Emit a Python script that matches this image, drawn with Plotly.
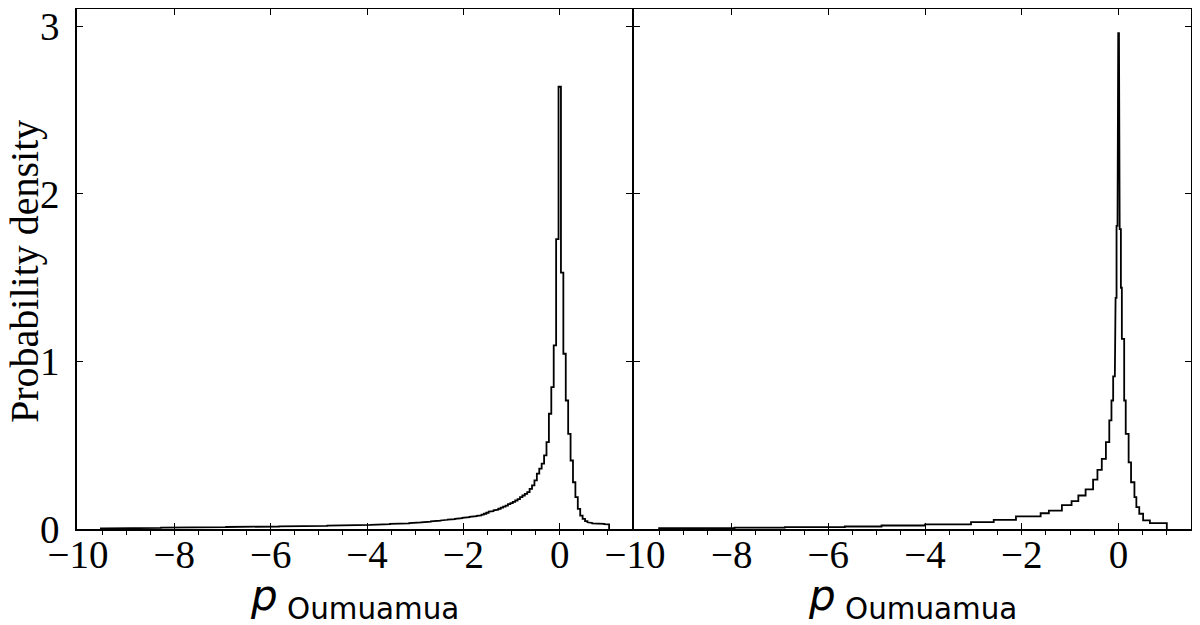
import numpy as np
import plotly.graph_objects as go

# ---------------- data ----------------
# left panel: uniform bins of width 0.05 centred on -9.50 ... 1.00
left_bin_start = -9.525
left_bin_width = 0.05
left_density = [
    0.003, 0.003, 0.004, 0.003, 0.004, 0.004, 0.004, 0.005, 0.004, 0.005,
    0.005, 0.005, 0.005, 0.006, 0.005, 0.006, 0.006, 0.006, 0.006, 0.007,
    0.006, 0.007, 0.007, 0.007, 0.007, 0.008, 0.007, 0.008, 0.008, 0.008,
    0.008, 0.008, 0.009, 0.008, 0.009, 0.009, 0.009, 0.009, 0.010, 0.009,
    0.010, 0.010, 0.010, 0.010, 0.010, 0.011, 0.010, 0.011, 0.011, 0.011,
    0.011, 0.011, 0.012, 0.011, 0.012, 0.012, 0.012, 0.012, 0.013, 0.012,
    0.013, 0.013, 0.013, 0.013, 0.014, 0.013, 0.014, 0.014, 0.014, 0.015,
    0.014, 0.015, 0.015, 0.015, 0.016, 0.015, 0.016, 0.016, 0.016, 0.017,
    0.016, 0.017, 0.017, 0.017, 0.018, 0.017, 0.018, 0.018, 0.018, 0.019,
    0.018, 0.019, 0.019, 0.019, 0.020, 0.020, 0.020, 0.020, 0.021, 0.021,
    0.021, 0.021, 0.022, 0.022, 0.022, 0.023, 0.022, 0.023, 0.023, 0.024,
    0.024, 0.024, 0.025, 0.025, 0.026, 0.026, 0.027, 0.027, 0.028, 0.029,
    0.030, 0.030, 0.031, 0.032, 0.032, 0.033, 0.034, 0.034, 0.035, 0.036,
    0.037, 0.038, 0.039, 0.040, 0.042, 0.043, 0.044, 0.046, 0.047, 0.048,
    0.050, 0.051, 0.053, 0.055, 0.056, 0.058, 0.059, 0.061, 0.063, 0.065,
    0.067, 0.068, 0.070, 0.072, 0.074, 0.076, 0.078, 0.081, 0.086, 0.091,
    0.097, 0.104, 0.107, 0.111, 0.115, 0.121, 0.127, 0.133, 0.140, 0.148,
    0.155, 0.162, 0.170, 0.178, 0.190, 0.200, 0.210, 0.220, 0.240, 0.260,
    0.290, 0.330, 0.360, 0.390, 0.439, 0.518, 0.688, 0.847, 1.096, 1.730,
    2.640, 1.530, 1.046, 0.767, 0.568, 0.409, 0.279, 0.190, 0.120, 0.080,
    0.060, 0.047, 0.040, 0.036, 0.034, 0.033, 0.032, 0.031, 0.030, 0.029,
    0.028,
]

# right panel: non-uniform bins
right_bin_edges = [
    -9.5, -7.94, -6.9, -5.66, -4.9, -4.0, -3.05, -2.58, -2.12, -1.61,
    -1.44, -1.17, -0.97, -0.83, -0.68, -0.525, -0.435, -0.345, -0.26, -0.19,
    -0.145, -0.11, -0.075, -0.06, -0.04, -0.02, -0.005, 0.01, 0.025, 0.05,
    0.07, 0.118, 0.15, 0.21, 0.26, 0.33, 0.37, 0.43, 0.51, 0.65, 1.0,
]
right_density = [
    0.005, 0.008, 0.011, 0.015, 0.021, 0.028, 0.041, 0.055, 0.075, 0.094,
    0.110, 0.142, 0.166, 0.200, 0.236, 0.295, 0.353, 0.419, 0.518, 0.648,
    0.767, 0.911, 1.110, 1.380, 1.810, 2.660, 2.960, 2.310, 1.790, 1.440,
    1.135, 0.767, 0.568, 0.398, 0.279, 0.190, 0.131, 0.091, 0.051, 0.035,
]

x_tick_values = [-10, -8, -6, -4, -2, 0]
x_tick_labels = ["\u221210", "\u22128", "\u22126", "\u22124", "\u22122", "0"]
y_tick_values = [0, 1, 2, 3]
y_tick_labels = ["0", "1", "2", "3"]

x_title = "<i>p</i><sub> Oumuamua</sub>"
y_title = "Probability density"


def step_outline(edges, dens):
    edges = np.asarray(edges, dtype=float)
    dens = np.asarray(dens, dtype=float)
    xs = np.repeat(edges, 2)
    ys = np.concatenate([[0.0], np.repeat(dens, 2), [0.0]])
    return xs, ys


left_edges = left_bin_start + left_bin_width * np.arange(len(left_density) + 1)
lx, ly = step_outline(left_edges, left_density)
rx, ry = step_outline(right_bin_edges, right_density)

# ---------------- figure ----------------
W, H = 1200, 625
ml, mr, mt, mb = 69, 17, 1, 104
pw = W - ml - mr

fig = go.Figure()
fig.add_trace(go.Scatter(x=lx, y=ly, mode="lines", xaxis="x", yaxis="y",
                         line=dict(color="black", width=1.8), showlegend=False,
                         hoverinfo="skip"))
fig.add_trace(go.Scatter(x=rx, y=ry, mode="lines", xaxis="x2", yaxis="y2",
                         line=dict(color="black", width=1.8), showlegend=False,
                         hoverinfo="skip"))

tick_font = dict(family="Liberation Serif, Times New Roman, serif", size=39, color="black")
xrange_ = [-10.02, 1.5]
yrange_ = [0, 3.104]

common_x = dict(
    range=xrange_, showline=True, linecolor="black", linewidth=1.5,
    mirror="ticks", ticks="inside", ticklen=6, tickwidth=1.2, tickcolor="black",
    tickmode="array", tickvals=x_tick_values, ticktext=x_tick_labels,
    tickfont=tick_font, showgrid=False, zeroline=False,
    ticklabelstandoff=-10, ticklabeloverflow="allow",
    minor=dict(ticks="outside", tickmode="linear", tick0=0, dtick=0.5,
               ticklen=4, tickwidth=1, tickcolor="black", showgrid=False),
)
common_y = dict(
    range=yrange_, showline=True, linecolor="black", linewidth=1.5,
    mirror="ticks", ticks="inside", ticklen=6, tickwidth=1.2, tickcolor="black",
    tickmode="array", tickvals=y_tick_values, ticktext=y_tick_labels,
    tickfont=tick_font, showgrid=False, zeroline=False,
    ticklabeloverflow="allow",
)

fig.update_layout(
    width=W, height=H,
    margin=dict(l=ml, r=mr, t=mt, b=mb, autoexpand=False),
    paper_bgcolor="white", plot_bgcolor="white",
    xaxis=dict(domain=[0, 555 / pw], anchor="y", **common_x),
    xaxis2=dict(domain=[557 / pw, 1.0], anchor="y2", **common_x),
    yaxis=dict(domain=[0, 1], anchor="x", ticklabelstandoff=8, **common_y),
    yaxis2=dict(domain=[0, 1], anchor="x2", showticklabels=False, **common_y),
)

title_font = dict(family="DejaVu Sans, sans-serif", size=42, color="black")
for dom_c in [(0 + 555 / pw) / 2, (557 / pw + 1.0) / 2]:
    fig.add_annotation(text=x_title, xref="paper", yref="paper", x=dom_c, y=0,
                       xanchor="center", yanchor="middle", yshift=-69,
                       showarrow=False, font=title_font)

fig.add_annotation(text=y_title, xref="paper", yref="paper", x=0, y=0.5,
                   xanchor="center", yanchor="middle", xshift=-53, yshift=-3,
                   textangle=-90, showarrow=False,
                   font=dict(family="Liberation Serif, Times New Roman, serif",
                             size=40, color="black"))

fig.write_html("out.html")
